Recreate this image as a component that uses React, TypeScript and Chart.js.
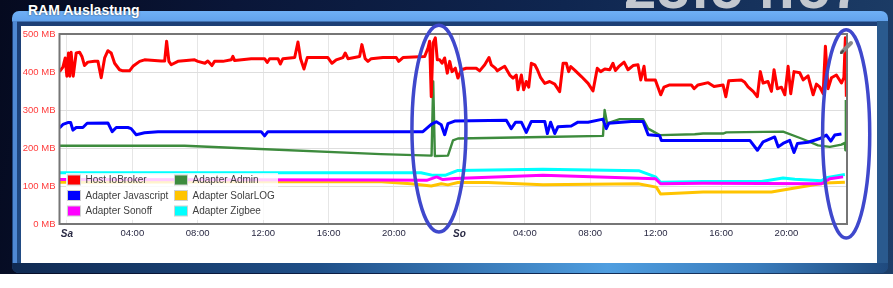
import React, { useEffect, useRef } from 'react';
import { Chart, registerables } from 'chart.js';

Chart.register(...registerables);

// ---- data (x = hours since Saturday 00:00, y = MB) ----
const hostIoBroker: [number, number][] = [
  [-0.45, 401], [-0.24, 413], [-0.1, 437], [0.0, 389], [0.1, 450], [0.18, 389], [0.26, 452], [0.39, 389],
  [0.57, 450], [0.78, 452], [0.92, 441], [1.08, 417], [1.28, 426], [1.69, 428], [1.9, 428], [2.1, 385],
  [2.31, 437], [2.51, 456], [2.71, 450], [2.92, 423], [3.22, 406], [3.43, 403], [3.83, 403], [4.04, 415],
  [4.45, 428], [4.75, 432], [5.77, 429], [5.98, 429], [6.1, 481], [6.24, 428], [6.38, 419], [6.79, 428],
  [7.81, 432], [8.01, 428], [8.44, 423], [8.62, 429], [8.87, 417], [9.03, 428], [9.54, 428], [10.05, 432],
  [10.15, 441], [10.26, 430], [11.27, 435], [12.09, 435], [12.25, 425], [12.4, 435], [12.91, 435], [13.05, 421],
  [13.21, 435], [13.93, 438], [14.13, 479], [14.29, 435], [14.5, 408], [14.7, 438], [15.96, 438], [16.21, 423],
  [16.47, 432], [16.88, 438], [17.02, 450], [17.19, 435], [17.9, 441], [18.04, 472], [18.24, 435], [18.41, 428],
  [18.61, 435], [19.33, 438], [20.14, 438], [20.29, 428], [20.55, 438], [21.88, 441], [22.08, 463], [22.18, 481],
  [22.28, 335], [22.39, 476], [22.53, 490], [22.65, 432], [22.8, 432], [22.94, 423], [23.1, 437], [23.26, 397],
  [23.41, 428], [23.55, 401], [23.75, 410], [23.91, 384], [24.12, 406], [24.42, 410], [24.63, 410], [25.03, 410],
  [25.24, 403], [25.55, 419], [25.81, 438], [25.95, 419], [26.2, 410], [26.32, 403], [26.56, 410], [26.77, 415],
  [27.08, 392], [27.28, 384], [27.48, 392], [27.58, 353], [27.79, 392], [27.93, 353], [28.09, 375], [28.24, 360],
  [28.4, 423], [28.61, 419], [28.77, 406], [28.97, 385], [29.22, 370], [29.52, 375], [29.83, 368], [30.13, 348],
  [30.34, 423], [30.54, 423], [30.68, 401], [30.81, 414], [31.05, 405], [31.46, 388], [31.87, 370], [32.17, 350],
  [32.43, 410], [32.64, 401], [32.89, 408], [33.19, 406], [33.39, 423], [33.54, 404], [33.74, 414], [34.07, 426],
  [34.31, 406], [34.62, 417], [34.92, 419], [35.09, 379], [35.29, 415], [35.39, 379], [35.98, 379], [36.31, 340],
  [36.51, 360], [36.86, 366], [38.18, 366], [38.35, 356], [38.59, 366], [39.21, 372], [39.57, 362], [40.12, 366],
  [40.29, 335], [40.47, 377], [41.24, 379], [41.45, 373], [41.65, 361], [41.96, 349], [42.22, 335], [42.4, 401],
  [42.57, 371], [42.87, 375], [43.08, 349], [43.24, 406], [43.44, 356], [43.69, 360], [43.9, 340], [44.1, 415],
  [44.26, 343], [44.46, 401], [44.81, 398], [45.02, 379], [45.32, 390], [45.63, 340], [45.83, 368], [46.04, 360],
  [46.24, 343], [46.38, 468], [46.54, 356], [46.75, 385], [47.05, 392], [47.36, 371], [47.51, 385], [47.6, 490],
  [47.66, 335],
];

const adapterJavascript: [number, number][] = [
  [-0.45, 253], [-0.24, 262], [0.06, 267], [0.23, 267], [0.37, 247], [0.57, 254], [0.98, 254], [1.24, 265],
  [2.51, 266], [2.77, 243], [3.02, 254], [3.73, 254], [3.93, 251], [4.24, 235], [4.75, 240], [5.57, 243],
  [11.88, 243], [12.09, 232], [12.29, 243], [21.77, 243], [22.28, 262], [22.59, 269], [22.89, 261], [23.1, 235],
  [23.3, 264], [23.71, 271], [26.87, 273], [27.17, 251], [27.44, 268], [27.79, 268], [28.09, 241], [28.4, 270],
  [29.22, 270], [29.38, 238], [29.58, 268], [29.83, 238], [30.03, 256], [30.84, 258], [31.25, 268], [31.87, 268],
  [32.78, 276], [32.98, 251], [33.13, 265], [33.9, 268], [34.51, 270], [35.23, 270], [35.54, 235], [36.25, 232],
  [36.35, 220], [41.76, 220], [42.22, 194], [42.57, 216], [43.28, 229], [43.49, 203], [43.79, 212], [44.2, 220],
  [44.46, 188], [44.67, 212], [45.32, 215], [46.04, 225], [46.44, 234], [46.71, 218], [46.95, 234], [47.36, 237],
];

const adapterSonoff: [number, number][] = [
  [-0.45, 117], [19.02, 116], [22.0, 115], [22.61, 124], [22.99, 117], [23.71, 120], [29.11, 128], [35.99, 119],
  [36.3, 106], [38.9, 107], [46.14, 106], [46.65, 119], [47.46, 124],
];

const adapterAdmin: [number, number][] = [
  [-0.45, 206], [7.2, 206], [9.3, 202], [19.2, 184], [22.3, 180], [22.4, 375], [22.5, 179], [23.3, 180],
  [23.61, 220], [23.91, 225], [29.11, 229], [32.78, 232], [32.88, 300], [33.03, 265], [33.8, 276], [35.23, 276],
  [35.54, 251], [36.25, 234], [38.39, 236], [38.9, 238], [40.12, 238], [40.32, 241], [43.79, 243], [44.91, 225],
  [45.93, 207], [46.65, 203], [47.36, 209], [47.57, 214], [47.6, 194], [47.63, 326],
];

const adapterSolarLog: [number, number][] = [
  [-0.45, 110], [19.02, 112], [21.04, 106], [22.28, 100], [22.89, 106], [23.3, 103], [23.91, 109], [25.75, 109],
  [29.11, 103], [34.92, 106], [36.04, 97], [36.3, 79], [38.9, 84], [43.08, 84], [44.51, 95], [46.34, 108],
  [47.57, 110],
];

const adapterZigbee: [number, number][] = [
  [-0.45, 135], [21.65, 135], [22.39, 128], [23.12, 128], [23.91, 141], [29.1, 144], [35.0, 140], [35.99, 124],
  [36.3, 110], [38.9, 112], [42.47, 112], [43.79, 121], [44.51, 118], [46.14, 114], [46.44, 122], [47.57, 130],
];

const seriesLabels = ['Host IoBroker', 'Adapter Javascript', 'Adapter Sonoff', 'Adapter Admin', 'Adapter SolarLOG', 'Adapter Zigbee'];
const seriesColors = ['#ff0000', '#0000ff', '#ff00ff', '#3d8b3d', '#ffc400', '#00ffff'];
const seriesWidths = [3, 3, 3, 2.4, 3, 3];
const seriesData = [hostIoBroker, adapterJavascript, adapterSonoff, adapterAdmin, adapterSolarLog, adapterZigbee];

const xTickHours = [0, 4, 8, 12, 16, 20, 24, 28, 32, 36, 40, 44];
const xTickLabels = ['Sa', '04:00', '08:00', '12:00', '16:00', '20:00', 'So', '04:00', '08:00', '12:00', '16:00', '20:00'];
const yTickValues = [0, 100, 200, 300, 400, 500];
const xRange = [-0.45, 47.7];

// highlighted regions (ellipses): centre hour, centre MB, radius in hours, radius in MB
const highlightCentersX = [22.75, 47.65];
const highlightCentersY = [251, 237];
const highlightRadiiX = [1.65, 1.44];
const highlightRadiiY = [272, 274];

const FONT = '"Liberation Sans", Arial, sans-serif';

const overlayPlugin = {
  id: 'overlay',
  afterDatasetsDraw(chart: any) {
    const { ctx, chartArea: ca } = chart;
    ctx.save();
    // frame
    ctx.strokeStyle = '#767676';
    ctx.lineWidth = 2;
    ctx.strokeRect(ca.left, ca.top, ca.right - ca.left, ca.bottom - ca.top);

    // legend box inside plot area
    const bx = ca.left + 6.5;
    const bh = 47;
    const by = ca.bottom - 51;
    ctx.fillStyle = 'rgba(255,255,255,0.8)';
    ctx.fillRect(bx, by, 212, bh);
    ctx.font = `10px ${FONT}`;
    ctx.textBaseline = 'middle';
    ctx.textAlign = 'left';
    chart.data.datasets.forEach((ds: any, i: number) => {
      const col = Math.floor(i / 3);
      const row = i % 3;
      const sx = bx + 2 + col * 107;
      const sy = by + 2.5 + row * 15.5;
      ctx.fillStyle = '#d0d0d0';
      ctx.fillRect(sx - 1, sy - 1, 14, 11);
      ctx.fillStyle = ds.borderColor;
      ctx.fillRect(sx, sy, 12, 9);
      ctx.fillStyle = '#404040';
      ctx.fillText(ds.label, sx + 17.5, sy + 4.8);
    });
    ctx.restore();
  },
  afterDraw(chart: any) {
    const { ctx, chartArea: ca } = chart;
    const xs = chart.scales.x;
    const ys = chart.scales.y;
    ctx.save();
    // pencil icon
    ctx.lineCap = 'round';
    ctx.strokeStyle = '#8a8a8a';
    ctx.lineWidth = 4;
    ctx.beginPath();
    ctx.moveTo(ca.right - 5, ca.top + 18);
    ctx.lineTo(ca.right + 4, ca.top + 9);
    ctx.stroke();
    ctx.strokeStyle = '#444';
    ctx.lineWidth = 2;
    ctx.beginPath();
    ctx.moveTo(ca.right - 6, ca.top + 19);
    ctx.lineTo(ca.right - 4, ca.top + 17);
    ctx.stroke();
    // highlight ellipses
    ctx.strokeStyle = '#3f48cc';
    ctx.lineWidth = 3.5;
    highlightCentersX.forEach((cx, i) => {
      const px = xs.getPixelForValue(cx);
      const py = ys.getPixelForValue(highlightCentersY[i]);
      const rx = Math.abs(xs.getPixelForValue(cx + highlightRadiiX[i]) - px);
      const ry = Math.abs(ys.getPixelForValue(highlightCentersY[i] + highlightRadiiY[i]) - py);
      ctx.beginPath();
      ctx.ellipse(px, py, rx, ry, 0, 0, Math.PI * 2);
      ctx.stroke();
    });
    ctx.restore();
  },
};

function ChartCanvas() {
  const ref = useRef<HTMLCanvasElement | null>(null);
  useEffect(() => {
    if (!ref.current) return;
    const chart = new Chart(ref.current, {
      type: 'line',
      data: {
        datasets: seriesData.map((arr, i) => ({
          label: seriesLabels[i],
          data: arr.map(([x, y]) => ({ x, y })),
          borderColor: seriesColors[i],
          backgroundColor: seriesColors[i],
          borderWidth: seriesWidths[i],
          pointRadius: 0,
          tension: 0,
          fill: false,
          borderJoinStyle: 'round' as const,
        })),
      },
      options: {
        responsive: false,
        animation: false,
        devicePixelRatio: 1,
        layout: { padding: { left: 16, right: 46, top: 34, bottom: 44 } },
        plugins: { legend: { display: false }, tooltip: { enabled: false } },
        scales: {
          x: {
            type: 'linear',
            min: xRange[0],
            max: xRange[1],
            afterBuildTicks: (scale: any) => {
              scale.ticks = xTickHours.map((v) => ({ value: v }));
            },
            afterFit: (scale: any) => {
              scale.height = 20;
            },
            grid: { color: '#e6e6e6', lineWidth: 1, drawTicks: false },
            border: { display: false },
            ticks: {
              padding: 4,
              maxRotation: 0,
              autoSkip: false,
              color: '#2a2a44',
              font: (c: any) => {
                const v = c.tick ? c.tick.value : 1;
                const day = v % 24 === 0;
                return { family: FONT, size: day ? 10 : 9.5, weight: day ? 'bold' : 'normal', style: day ? 'italic' : 'normal' };
              },
              callback: (_v: any, i: number) => xTickLabels[i],
            },
          },
          y: {
            min: 0,
            max: 500,
            afterBuildTicks: (scale: any) => {
              scale.ticks = yTickValues.map((v) => ({ value: v }));
            },
            afterFit: (scale: any) => {
              scale.width = 43.5;
            },
            grid: { color: '#dedede', lineWidth: 1, drawTicks: false },
            border: { display: false },
            ticks: {
              padding: 4,
              color: '#ff3b3b',
              font: { family: FONT, size: 9.5 },
              callback: (v: any) => `${v} MB`,
            },
          },
        },
      },
      plugins: [overlayPlugin],
    } as any);
    return () => chart.destroy();
  }, []);
  return <canvas ref={ref} width={893} height={288} style={{ position: 'absolute', left: 0, top: 0, width: 893, height: 288 }} />;
}

export default function App() {
  return (
    <div style={{ position: 'fixed', left: 0, top: 0, width: 893, height: 288, background: '#ffffff', overflow: 'hidden', fontFamily: FONT }}>
      {/* dashboard background */}
      <div style={{ position: 'absolute', left: 0, top: 0, width: 893, height: 274, background: 'linear-gradient(100deg, #050a1f 0%, #0a1638 25%, #0f2650 60%, #1d3e68 100%)' }} />
      {/* clock (cut off at the top) */}
      <div style={{ position: 'absolute', left: 600, top: 0, width: 293, height: 10, overflow: 'hidden' }}>
        <div style={{ position: 'absolute', left: 24, top: -41, fontSize: 58, lineHeight: '58px', fontWeight: 'bold', color: '#c3c8cf', whiteSpace: 'nowrap', letterSpacing: 1 }}>23:54:57</div>
      </div>
      {/* panel frame */}
      <div style={{ position: 'absolute', left: 12, top: 11, width: 876, height: 262, borderRadius: '7px 7px 7px 7px', background: 'linear-gradient(to bottom, #6fb0f6 0px, #62a2ec 10px, #1d3f76 11px, #224d86 100%)' }} />
      <div style={{ position: 'absolute', left: 13, top: 21, width: 4, height: 243, background: '#4f89d4' }} />
      <div style={{ position: 'absolute', left: 877, top: 21, width: 11, height: 243, background: '#2a5a8e' }} />
      <div style={{ position: 'absolute', left: 12, top: 263, width: 876, height: 10, borderRadius: '0 0 7px 7px', background: 'linear-gradient(90deg, #102a52 0%, #1f4f88 35%, #4f9ee0 68%, #3a7cbc 85%, #1f4a7e 100%)' }} />
      {/* white content area */}
      <div style={{ position: 'absolute', left: 21, top: 26, width: 856, height: 237, background: '#ffffff' }} />
      {/* title */}
      <div style={{ position: 'absolute', left: 28, top: 2, fontSize: 14, lineHeight: '16px', fontWeight: 'bold', color: '#ffffff', textShadow: '0 0 2px rgba(0,0,0,0.6)' }}>RAM Auslastung</div>
      <ChartCanvas />
    </div>
  );
}
